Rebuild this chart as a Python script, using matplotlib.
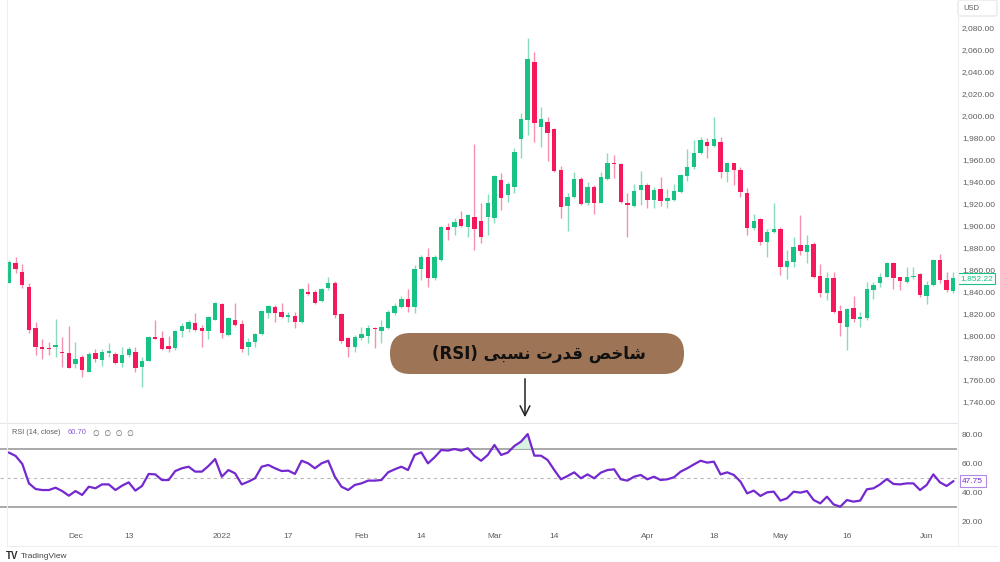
import matplotlib
matplotlib.use("Agg")
import matplotlib.pyplot as plt
from matplotlib.patches import FancyBboxPatch
from matplotlib.transforms import blended_transform_factory
import numpy as np

# ---------------- data ----------------
opens = [1848.0, 1866.2, 1857.4, 1844.4, 1806.5, 1789.2, 1788.9, 1789.8, 1785.3, 1783.8,
         1774.1, 1780.7, 1767.1, 1783.8, 1777.7, 1784.4, 1782.9, 1775.3, 1782.3, 1785.3,
         1771.1, 1777.1, 1798.9, 1798.0, 1790.7, 1788.3, 1804.1, 1805.6, 1811.0, 1806.8,
         1804.1, 1814.1, 1828.6, 1800.4, 1814.1, 1810.5, 1789.9, 1794.4, 1801.4, 1820.2,
         1825.6, 1821.7, 1816.5, 1817.7, 1812.0, 1839.2, 1839.2, 1831.7, 1842.9, 1847.4,
         1819.6, 1797.4, 1789.9, 1797.4, 1799.9, 1806.5, 1804.1, 1806.5, 1820.2, 1825.6,
         1832.9, 1825.6, 1860.5, 1871.1, 1852.0, 1868.6, 1898.3, 1898.3, 1905.9, 1898.3,
         1908.0, 1904.1, 1908.0, 1906.5, 1941.3, 1927.7, 1935.3, 1978.3, 1995.9, 2048.9,
         1989.8, 1993.8, 1987.7, 1950.4, 1917.7, 1926.2, 1942.0, 1920.1, 1934.7, 1920.7,
         1942.3, 1957.1, 1955.9, 1920.7, 1918.0, 1932.3, 1936.8, 1923.2, 1932.9, 1922.6,
         1923.2, 1930.7, 1945.0, 1953.5, 1965.6, 1976.2, 1972.3, 1976.2, 1948.9, 1956.5,
         1950.4, 1929.8, 1897.4, 1905.6, 1885.3, 1894.4, 1896.5, 1862.6, 1867.1, 1882.3,
         1876.2, 1883.2, 1854.1, 1838.3, 1852.0, 1822.3, 1808.0, 1824.7, 1814.7, 1815.6,
         1841.4, 1847.4, 1853.5, 1865.6, 1852.9, 1848.9, 1852.9, 1855.9, 1835.9, 1845.9,
         1868.6, 1850.5, 1840.8]
highs = [1868.6, 1871.0, 1865.0, 1848.0, 1812.6, 1796.5, 1794.4, 1815.0, 1798.9, 1808.6,
         1794.4, 1782.3, 1785.3, 1787.4, 1788.0, 1792.9, 1785.3, 1789.2, 1789.8, 1789.2,
         1780.1, 1799.5, 1814.1, 1804.4, 1799.5, 1805.0, 1811.0, 1814.1, 1820.7, 1809.5,
         1817.7, 1830.7, 1829.8, 1816.5, 1829.8, 1814.1, 1797.4, 1802.0, 1822.6, 1827.7,
         1827.7, 1829.2, 1821.7, 1821.7, 1842.9, 1848.0, 1841.4, 1842.9, 1853.5, 1849.9,
         1820.2, 1798.9, 1800.5, 1808.0, 1809.6, 1808.0, 1814.1, 1823.2, 1829.2, 1835.9,
         1842.0, 1864.1, 1873.2, 1879.2, 1873.2, 1899.5, 1902.0, 1906.5, 1913.5, 1910.5,
         1973.8, 1920.1, 1928.3, 1945.9, 1947.4, 1939.8, 1970.1, 2001.9, 2070.1, 2058.0,
         2008.0, 1998.3, 1988.9, 1954.1, 1929.2, 1948.9, 1944.4, 1939.8, 1936.8, 1948.9,
         1965.6, 1963.8, 1957.1, 1929.2, 1937.7, 1949.5, 1938.3, 1934.7, 1944.4, 1932.9,
         1937.7, 1946.8, 1969.2, 1977.7, 1980.1, 1979.2, 1998.3, 1980.7, 1958.0, 1957.1,
         1953.5, 1933.8, 1910.5, 1906.5, 1896.5, 1920.1, 1898.9, 1877.7, 1889.2, 1909.5,
         1891.4, 1885.3, 1865.0, 1858.0, 1858.0, 1827.7, 1824.7, 1835.9, 1821.7, 1848.9,
         1848.9, 1857.1, 1867.1, 1867.1, 1853.5, 1862.6, 1862.6, 1857.1, 1849.9, 1869.2,
         1874.1, 1858.0, 1858.0]
lows = [1847.4, 1856.5, 1842.9, 1802.6, 1782.3, 1778.6, 1782.3, 1780.7, 1771.7, 1770.1,
        1770.1, 1762.6, 1767.1, 1776.2, 1772.3, 1780.7, 1774.1, 1771.1, 1780.1, 1767.1,
        1753.5, 1777.1, 1797.1, 1786.8, 1785.3, 1786.8, 1798.9, 1803.5, 1804.4, 1789.8,
        1796.5, 1814.1, 1798.0, 1799.5, 1808.6, 1785.0, 1782.3, 1789.9, 1800.5, 1815.6,
        1812.6, 1815.6, 1812.6, 1806.5, 1811.1, 1836.8, 1828.6, 1830.8, 1841.4, 1815.6,
        1792.9, 1780.8, 1785.3, 1795.9, 1792.9, 1788.3, 1793.5, 1805.6, 1818.6, 1824.7,
        1821.7, 1820.8, 1850.5, 1844.4, 1850.5, 1868.0, 1886.8, 1891.4, 1898.9, 1889.8,
        1877.7, 1883.8, 1891.4, 1902.0, 1914.1, 1921.7, 1929.2, 1961.0, 1982.3, 1976.2,
        1971.0, 1958.9, 1948.9, 1906.5, 1895.3, 1924.7, 1918.6, 1918.6, 1910.4, 1920.1,
        1941.3, 1942.9, 1920.7, 1889.8, 1917.1, 1918.6, 1915.6, 1915.6, 1917.7, 1915.6,
        1922.6, 1929.2, 1940.7, 1951.0, 1965.0, 1961.0, 1971.6, 1942.9, 1939.8, 1936.8,
        1926.2, 1891.4, 1895.9, 1882.3, 1871.7, 1892.9, 1855.0, 1851.1, 1862.6, 1873.2,
        1865.6, 1852.0, 1835.3, 1832.3, 1820.8, 1799.6, 1786.8, 1812.6, 1807.4, 1814.1,
        1832.9, 1844.4, 1852.9, 1842.0, 1841.4, 1847.4, 1851.1, 1835.3, 1828.6, 1845.3,
        1847.4, 1839.9, 1838.9]
closes = [1867.1, 1860.1, 1845.9, 1805.0, 1789.8, 1787.4, 1787.4, 1791.4, 1784.4, 1770.8,
          1778.6, 1768.6, 1782.9, 1778.6, 1785.3, 1785.9, 1775.3, 1782.3, 1787.4, 1770.8,
          1777.1, 1798.9, 1797.1, 1788.0, 1787.7, 1804.1, 1808.9, 1812.6, 1805.0, 1804.4,
          1816.5, 1829.8, 1802.0, 1815.6, 1809.5, 1787.7, 1794.4, 1801.1, 1822.6, 1826.8,
          1820.8, 1817.1, 1818.6, 1812.6, 1842.3, 1837.4, 1829.2, 1842.0, 1847.4, 1818.6,
          1795.3, 1789.3, 1798.9, 1801.1, 1806.5, 1805.6, 1807.4, 1821.7, 1827.1, 1832.9,
          1826.2, 1860.5, 1871.7, 1852.6, 1871.7, 1898.3, 1895.9, 1903.5, 1899.5, 1909.5,
          1896.5, 1889.2, 1920.7, 1945.0, 1924.7, 1937.4, 1967.1, 1996.5, 2051.0, 1992.9,
          1996.5, 1984.4, 1949.5, 1917.1, 1925.6, 1942.0, 1919.5, 1935.3, 1920.7, 1944.4,
          1957.1, 1955.9, 1921.7, 1918.6, 1931.3, 1936.8, 1923.2, 1932.3, 1922.6, 1924.7,
          1931.3, 1945.9, 1953.5, 1966.2, 1977.7, 1972.6, 1978.3, 1948.9, 1957.1, 1950.4,
          1930.8, 1897.4, 1904.4, 1885.3, 1894.4, 1896.5, 1862.6, 1868.0, 1880.8, 1877.1,
          1882.0, 1853.5, 1838.3, 1852.0, 1821.7, 1811.1, 1823.8, 1814.7, 1817.1, 1842.0,
          1845.9, 1853.5, 1866.2, 1852.0, 1849.9, 1852.9, 1854.1, 1836.8, 1845.9, 1868.6,
          1850.5, 1841.4, 1852.22]
rsi = [67.5, 65.2, 59.7, 46.3, 42.4, 41.7, 41.7, 43.3, 41.0, 37.8,
       41.0, 38.3, 44.0, 42.9, 45.6, 45.6, 41.7, 44.7, 47.0, 41.3,
       44.5, 52.8, 52.5, 48.6, 48.6, 54.8, 56.7, 57.8, 54.4, 54.4,
       58.3, 63.1, 50.9, 55.5, 53.2, 45.6, 47.5, 49.8, 57.8, 59.0,
       56.7, 54.8, 55.1, 52.8, 61.9, 60.1, 56.7, 60.1, 61.9, 50.9,
       44.0, 41.7, 45.2, 46.3, 48.2, 48.2, 48.6, 53.9, 56.0, 57.8,
       55.5, 65.9, 67.7, 60.1, 64.3, 69.3, 68.9, 70.0, 68.9, 70.5,
       65.2, 61.9, 65.9, 72.8, 65.9, 67.5, 72.1, 75.1, 80.3, 65.4,
       65.4, 62.4, 55.5, 49.1, 51.4, 53.9, 49.8, 52.5, 49.8, 53.7,
       55.5, 56.0, 49.1, 48.2, 50.9, 52.1, 49.1, 50.9, 48.6, 49.1,
       50.5, 54.4, 56.7, 59.4, 61.9, 60.6, 61.3, 52.5, 53.9, 52.1,
       47.5, 39.4, 41.3, 37.6, 40.1, 40.6, 34.4, 36.0, 40.6, 39.9,
       41.0, 34.8, 32.5, 37.1, 31.8, 30.2, 34.8, 33.7, 34.4, 42.2,
       42.9, 45.6, 49.3, 45.9, 45.6, 46.3, 46.3, 41.7, 45.2, 52.5,
       47.0, 44.5, 47.75]

tick_idx = [10, 18, 32, 42, 53, 62, 73, 82, 96, 106, 116, 126, 138]
tick_lbl = ["Dec", "13", "2022", "17", "Feb", "14", "Mar", "14", "Apr", "18", "May", "16", "Jun"]
price_ticks = list(range(1740, 2081, 20))
rsi_ticks = [20, 40, 60, 80]
rsi_upper, rsi_mid, rsi_lower = 70, 50, 30
last_price = closes[-1]
last_rsi = rsi[-1]
rsi_header = "RSI (14, close)"
rsi_header_val = "60.70"
title_fa = "شاخص قدرت نسبی (RSI)"
# visual-order, pre-shaped form of title_fa for a renderer without Arabic shaping
title_fa_visual = ("(RSI) " + "\uFBFD\uFE92\uFEB4\uFEE7" + " " +
                   "\uFE95\uFEAD\uFEAA\uFED7" + " " + "\uFEBA\uFEA7\uFE8E\uFEB7")

# ---------------- style ----------------
GREEN = "#17c283"
RED = "#f5185a"
GREEN_WICK = "#86dcbc"
RED_WICK = "#f790ad"
PURPLE = "#7328d0"
LABEL = "#5d5d5d"
FONT = ["Liberation Sans", "DejaVu Sans"]
plt.rcParams["font.family"] = FONT

W, H = 1000, 562
fig = plt.figure(figsize=(10, 5.62), dpi=100)
fig.patch.set_facecolor("white")


def px_rect(x0, y0, x1, y1):
    return [x0 / W, 1 - y1 / H, (x1 - x0) / W, (y1 - y0) / H]


ax = fig.add_axes(px_rect(0, 0, 957, 422))
axr = fig.add_axes(px_rect(0, 423, 957, 527), sharex=ax)

x = np.arange(len(closes))
o = np.array(opens); c = np.array(closes)
hi = np.array(highs); lo = np.array(lows)
up = c >= o
body_lo = np.minimum(o, c)
body_h = np.maximum(np.abs(c - o), 0.9)

ax.vlines(x[up], lo[up], hi[up], color=GREEN_WICK, lw=1.0, zorder=1)
ax.vlines(x[~up], lo[~up], hi[~up], color=RED_WICK, lw=1.0, zorder=1)
ax.bar(x[up], body_h[up], bottom=body_lo[up], width=0.66, color=GREEN, lw=0, zorder=2)
ax.bar(x[~up], body_h[~up], bottom=body_lo[~up], width=0.66, color=RED, lw=0, zorder=2)

ax.set_xlim(-1.353, 142.56)
ax.set_ylim(1721.4, 2105)
ax.yaxis.tick_right()
ax.set_yticks(price_ticks)
ax.set_yticklabels([f"{v:,.2f}" for v in price_ticks])
ax.tick_params(axis="y", length=0, pad=3.6, labelsize=6, labelcolor=LABEL)
ax.tick_params(axis="x", length=0, labelbottom=False)
for s in ax.spines.values():
    s.set_visible(False)

# RSI pane
r = np.array(rsi)
axr.plot(x, r, color=PURPLE, lw=1.6, zorder=3, solid_joinstyle="round")
axr.fill_between(x, r, rsi_upper, where=r > rsi_upper, interpolate=True,
                 color="#d5f2df", alpha=0.9, lw=0, zorder=2)
axr.axhline(rsi_upper, color="#a3a3a3", lw=1.3, zorder=1)
axr.axhline(rsi_lower, color="#a3a3a3", lw=1.3, zorder=1)
axr.axhline(rsi_mid, color="#b8b8b8", lw=0.8, ls=(0, (3, 3)), zorder=1)
axr.set_ylim(16.21, 87.93)
axr.yaxis.tick_right()
axr.set_yticks(rsi_ticks)
axr.set_yticklabels([f"{v:.2f}" for v in rsi_ticks])
axr.tick_params(axis="y", length=0, pad=3.6, labelsize=6, labelcolor=LABEL)
axr.set_xticks(tick_idx)
axr.set_xticklabels(tick_lbl)
axr.tick_params(axis="x", length=0, pad=4.5, labelsize=6, labelcolor=LABEL)
for s in axr.spines.values():
    s.set_visible(False)

# last value tags
tp = blended_transform_factory(ax.transAxes, ax.transData)
ax.text(1.0035, last_price, f"{last_price:,.2f}", transform=tp, ha="left", va="center",
        fontsize=6, color=GREEN, clip_on=False, zorder=5,
        bbox=dict(boxstyle="square,pad=0.25", fc="white", ec=GREEN, lw=0.8))
tr = blended_transform_factory(axr.transAxes, axr.transData)
axr.text(1.0055, last_rsi, f"{last_rsi:.2f}", transform=tr, ha="left", va="center",
         fontsize=6, color=PURPLE, clip_on=False, zorder=5,
         bbox=dict(boxstyle="square,pad=0.3", fc="white", ec="#b08ae6", lw=0.8))

# overlay in pixel coordinates
ov = fig.add_axes([0, 0, 1, 1])
ov.set_xlim(0, W)
ov.set_ylim(H, 0)
ov.axis("off")
ov.patch.set_alpha(0)

# frame lines
ov.plot([0, 957], [422.5, 422.5], color="#e4e6eb", lw=0.8)
ov.plot([957.5, 957.5], [0, 546], color="#eceef2", lw=0.8)
ov.plot([6.5, 6.5], [0, 546], color="#eceef2", lw=0.8)
ov.plot([6.5, 997], [546, 546], color="#eceef2", lw=0.8)

# USD box
ov.add_patch(FancyBboxPatch((958, 0), 39, 16, boxstyle="round,pad=0,rounding_size=2",
                            fc="white", ec="#e3e3e3", lw=0.8))
ov.text(963, 8, "USD", fontsize=5.5, color=LABEL, ha="left", va="center")

# RSI header
ov.text(12, 433, rsi_header, fontsize=5.3, color=LABEL, ha="left", va="center")
ov.text(68, 433, rsi_header_val, fontsize=5.5, color="#8a5ad6", ha="left", va="center")
ov.text(93, 433, "∅  ∅  ∅  ∅", fontsize=5.5, color=LABEL, ha="left", va="center",
        family=["DejaVu Sans"])

# annotation pill + arrow
ov.add_patch(FancyBboxPatch((390, 333), 294, 41, boxstyle="round,pad=0,rounding_size=20",
                            fc="#9d7556", ec="none", zorder=6))
ov.text(539, 354, title_fa_visual, fontsize=12, fontweight="bold", color="#111111",
        ha="center", va="center", family=["DejaVu Sans"], zorder=7)
ov.annotate("", xy=(525, 420), xytext=(525, 376),
            arrowprops=dict(arrowstyle="->,head_length=0.7,head_width=0.35",
                            color="#222222", lw=1.1), zorder=7)

# TradingView logo
ov.text(6, 556, "TV", fontsize=7, fontweight="bold", color="#2a2a2a", ha="left", va="center")
ov.text(21, 556.5, "TradingView", fontsize=6, color="#444444", ha="left", va="center")

fig.savefig("out.png", dpi=100, facecolor="white")
